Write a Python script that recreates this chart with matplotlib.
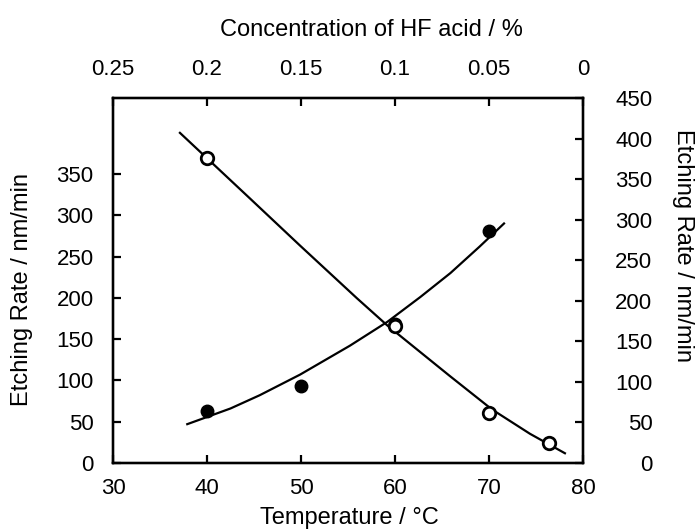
import numpy as np
import matplotlib
matplotlib.use("Agg")
import matplotlib.pyplot as plt

plt.rcParams['font.family'] = ['Liberation Sans', 'DejaVu Sans']

# filled circles: etching rate vs temperature (bottom / left axes)
temp = [40, 50, 60, 70]
rate_temp = [63, 93, 168, 281]
# curve drawn through them
curve_temp = [37.9, 42.5, 45.6, 49.9, 55.2, 59.2, 62.7, 65.9, 69.0, 71.6]
curve_rate_temp = [47, 66, 82, 107, 142, 171, 201, 230, 262, 290]

# open circles: etching rate vs HF concentration (top / right axes)
conc = [0.2, 0.1, 0.05, 0.018]
rate_conc = [376, 169, 61, 25]
curve_conc = [0.2144, 0.1771, 0.1505, 0.1202, 0.1043, 0.0867, 0.0707, 0.0484, 0.0282, 0.0096]
curve_rate_conc = [407, 326, 268, 203, 170, 137, 107, 66, 36, 12]

temp_ticks = [30, 40, 50, 60, 70, 80]
conc_ticks = [0.25, 0.2, 0.15, 0.1, 0.05, 0]
conc_labels = ["0.25", "0.2", "0.15", "0.1", "0.05", "0"]
left_ticks = [0, 50, 100, 150, 200, 250, 300, 350]
right_ticks = [0, 50, 100, 150, 200, 250, 300, 350, 400, 450]

fig = plt.figure(figsize=(6.98, 5.31), dpi=100)
ax = fig.add_axes([0.1619, 0.1281, 0.6733, 0.6874])
ax2 = ax.twinx()
ax3 = ax2.twiny()

lw = 1.6
tick_fs = 16
label_fs = 17

ax.plot(curve_temp, curve_rate_temp, color="black", lw=1.6)
ax.plot(temp, rate_temp, "o", color="black", ms=9, mec="black")
ax.set_xlim(30, 80)
ax.set_ylim(0, 442)
ax.set_xticks(temp_ticks)
ax.set_yticks(left_ticks)

ax3.plot(curve_conc, curve_rate_conc, color="black", lw=1.6)
ax3.plot(conc, rate_conc, "o", color="black", ms=9, mfc="white", mec="black", mew=2)
ax3.set_xlim(0.25, 0)
ax2.set_ylim(0, 450)
ax2.set_yticks(right_ticks)
ax3.set_xticks(conc_ticks)
ax3.set_xticklabels(conc_labels)

for a in (ax, ax2, ax3):
    for s in a.spines.values():
        s.set_linewidth(lw)

ax.tick_params(axis="both", direction="in", length=6, width=lw, labelsize=tick_fs,
               top=False, right=False)
ax.tick_params(axis="x", pad=11)
ax.tick_params(axis="y", pad=14)
ax2.tick_params(axis="y", direction="in", length=6, width=lw, labelsize=tick_fs, pad=50)
for t in ax2.get_yticklabels():
    t.set_horizontalalignment("right")
ax3.tick_params(axis="x", direction="in", length=6, width=lw, labelsize=tick_fs, pad=13)

ax.set_xlabel("Temperature / °C", fontsize=label_fs)
ax.set_ylabel("Etching Rate / nm/min", fontsize=label_fs)
ax2.set_ylabel("Etching Rate / nm/min", fontsize=label_fs, rotation=270, va="center")
ax3.set_xlabel("Concentration of HF acid / %", fontsize=label_fs)

ax.xaxis.set_label_coords(0.502, -0.12)
ax.yaxis.set_label_coords(-0.17, 0.474)
ax2.yaxis.set_label_coords(1.213, 0.595)
ax3.xaxis.set_label_coords(0.549, 1.17)

fig.savefig("out.png", dpi=100)
